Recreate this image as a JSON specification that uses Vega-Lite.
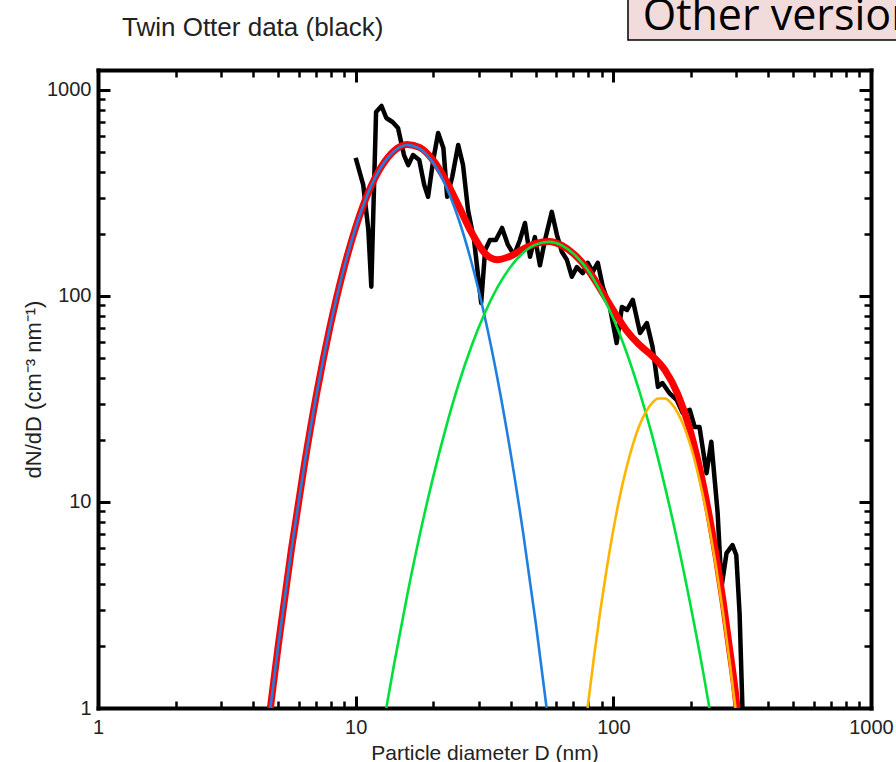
{
  "$schema": "https://vega.github.io/schema/vega-lite/v6.json",
  "autosize": {"type": "none"},
  "padding": {"left": 98, "top": 70, "right": 25, "bottom": 54},
  "width": 773,
  "height": 638,
  "background": "white",
  "config": {"view": {"stroke": null}},
  "datasets": {
    "black": [
      {"D": 10.0, "N": 468}, {"D": 10.7, "N": 346}, {"D": 11.2, "N": 209}, {"D": 11.5, "N": 111},
      {"D": 12.0, "N": 782}, {"D": 12.6, "N": 836}, {"D": 13.15, "N": 731}, {"D": 13.9, "N": 699},
      {"D": 14.6, "N": 654}, {"D": 15.4, "N": 483}, {"D": 16.0, "N": 432}, {"D": 16.7, "N": 483},
      {"D": 17.65, "N": 457}, {"D": 18.45, "N": 346}, {"D": 19.1, "N": 303}, {"D": 20.0, "N": 457},
      {"D": 20.9, "N": 618}, {"D": 21.9, "N": 523}, {"D": 22.65, "N": 303}, {"D": 23.7, "N": 378},
      {"D": 25.0, "N": 541}, {"D": 26.1, "N": 432}, {"D": 27.3, "N": 261}, {"D": 28.8, "N": 187},
      {"D": 30.7, "N": 92.5}, {"D": 31.8, "N": 167}, {"D": 33.2, "N": 187}, {"D": 35.0, "N": 187},
      {"D": 37.0, "N": 214}, {"D": 39.0, "N": 177}, {"D": 41.2, "N": 158}, {"D": 43.4, "N": 187},
      {"D": 45.4, "N": 226}, {"D": 47.5, "N": 155}, {"D": 49.6, "N": 193}, {"D": 51.9, "N": 141},
      {"D": 54.3, "N": 187}, {"D": 57.7, "N": 256}, {"D": 60.4, "N": 198}, {"D": 63.1, "N": 164},
      {"D": 66.0, "N": 150}, {"D": 69.0, "N": 124}, {"D": 72.2, "N": 138}, {"D": 76.1, "N": 129},
      {"D": 79.6, "N": 145}, {"D": 83.2, "N": 131}, {"D": 87.0, "N": 145}, {"D": 91.0, "N": 111},
      {"D": 96.9, "N": 88.5}, {"D": 103, "N": 59.1}, {"D": 108, "N": 88.5}, {"D": 113, "N": 85.5},
      {"D": 119, "N": 95.7}, {"D": 127, "N": 66.1}, {"D": 135, "N": 73.9}, {"D": 142, "N": 56.5},
      {"D": 149, "N": 36.2}, {"D": 155, "N": 37.8}, {"D": 165, "N": 33.8}, {"D": 176, "N": 31.3},
      {"D": 186, "N": 27.0}, {"D": 198, "N": 28.0}, {"D": 207, "N": 23.1}, {"D": 216, "N": 23.1},
      {"D": 230, "N": 13.8}, {"D": 240, "N": 19.6}, {"D": 254, "N": 8.84}, {"D": 263, "N": 3.87},
      {"D": 275, "N": 5.65}, {"D": 290, "N": 6.18}, {"D": 300, "N": 5.53}, {"D": 309, "N": 2.89},
      {"D": 317, "N": 1.0}
    ],
    "red": [
      {"D": 4.667, "N": 1}, {"D": 5.012, "N": 2.03}, {"D": 5.623, "N": 5.81}, {"D": 6.31, "N": 14.9},
      {"D": 7.079, "N": 34.3}, {"D": 7.943, "N": 70.5}, {"D": 8.913, "N": 130}, {"D": 10, "N": 215},
      {"D": 11.22, "N": 320}, {"D": 12.59, "N": 425}, {"D": 14.13, "N": 508}, {"D": 15.85, "N": 544},
      {"D": 17.78, "N": 525}, {"D": 19.95, "N": 457}, {"D": 22.39, "N": 364}, {"D": 25.12, "N": 273},
      {"D": 28.18, "N": 203}, {"D": 31.62, "N": 162}, {"D": 35.48, "N": 150}, {"D": 39.81, "N": 156},
      {"D": 44.67, "N": 169}, {"D": 50.12, "N": 180}, {"D": 56.23, "N": 184}, {"D": 63.1, "N": 176},
      {"D": 70.79, "N": 158.5}, {"D": 79.43, "N": 135}, {"D": 89.13, "N": 108}, {"D": 100, "N": 85.1},
      {"D": 112.2, "N": 68.3}, {"D": 125.9, "N": 58.1}, {"D": 141.3, "N": 51.3}, {"D": 158.5, "N": 43.7},
      {"D": 177.8, "N": 33.4}, {"D": 199.5, "N": 21.8}, {"D": 223.9, "N": 11.9}, {"D": 237.1, "N": 8.19},
      {"D": 251.2, "N": 5.37}, {"D": 266.1, "N": 3.35}, {"D": 281.8, "N": 1.99}, {"D": 298.5, "N": 1.15},
      {"D": 302, "N": 1}
    ],
    "blue": [
      {"D": 4.667, "N": 1}, {"D": 5.012, "N": 2.03}, {"D": 5.623, "N": 5.81}, {"D": 6.31, "N": 14.9},
      {"D": 7.079, "N": 34.3}, {"D": 7.943, "N": 70.5}, {"D": 8.913, "N": 130}, {"D": 10, "N": 215},
      {"D": 11.22, "N": 320}, {"D": 12.59, "N": 425}, {"D": 14.13, "N": 506}, {"D": 15.85, "N": 541},
      {"D": 17.78, "N": 518}, {"D": 19.95, "N": 444}, {"D": 22.39, "N": 341}, {"D": 25.12, "N": 235},
      {"D": 28.18, "N": 145}, {"D": 31.62, "N": 80.4}, {"D": 35.48, "N": 39.9}, {"D": 39.81, "N": 17.7},
      {"D": 44.67, "N": 7.08}, {"D": 50.12, "N": 2.53}, {"D": 55.08, "N": 1}
    ],
    "green": [
      {"D": 13.15, "N": 1}, {"D": 14.13, "N": 1.66}, {"D": 15.85, "N": 3.53}, {"D": 17.78, "N": 7.03},
      {"D": 19.95, "N": 13.1}, {"D": 22.39, "N": 22.9}, {"D": 25.12, "N": 37.5}, {"D": 28.18, "N": 57.3},
      {"D": 31.62, "N": 82.0}, {"D": 35.48, "N": 110}, {"D": 39.81, "N": 138}, {"D": 44.67, "N": 162},
      {"D": 50.12, "N": 178}, {"D": 56.23, "N": 183}, {"D": 63.1, "N": 176}, {"D": 70.79, "N": 158.5},
      {"D": 79.43, "N": 134}, {"D": 89.13, "N": 105}, {"D": 100, "N": 77.8}, {"D": 112.2, "N": 53.8},
      {"D": 125.9, "N": 34.8}, {"D": 141.3, "N": 21.1}, {"D": 158.5, "N": 11.9}, {"D": 177.8, "N": 6.33},
      {"D": 199.5, "N": 3.14}, {"D": 223.9, "N": 1.46}, {"D": 236, "N": 1}
    ],
    "orange": [
      {"D": 79.43, "N": 1}, {"D": 84.14, "N": 1.77}, {"D": 89.13, "N": 3.0}, {"D": 94.41, "N": 4.81},
      {"D": 100, "N": 7.33}, {"D": 105.9, "N": 10.6}, {"D": 112.2, "N": 14.5}, {"D": 118.9, "N": 18.9},
      {"D": 125.9, "N": 23.3}, {"D": 133.4, "N": 27.2}, {"D": 141.3, "N": 30.2}, {"D": 149.6, "N": 31.8},
      {"D": 158.5, "N": 31.8}, {"D": 167.9, "N": 30.1}, {"D": 177.8, "N": 27.1}, {"D": 188.4, "N": 23.1},
      {"D": 199.5, "N": 18.7}, {"D": 211.3, "N": 14.3}, {"D": 223.9, "N": 10.4}, {"D": 237.1, "N": 7.22},
      {"D": 251.2, "N": 4.73}, {"D": 266.1, "N": 2.94}, {"D": 281.8, "N": 1.73}, {"D": 297.8, "N": 1}
    ]
  },
  "resolve": {"axis": {"x": "independent", "y": "independent"}},
  "layer": [
    {
      "data": {"name": "black"},
      "mark": {"type": "line", "color": "black", "strokeWidth": 4.5, "strokeJoin": "round", "clip": true},
      "encoding": {
        "x": {"field": "D", "type": "quantitative", "scale": {"type": "log", "domain": [1, 1000], "nice": false},
          "axis": {"orient": "bottom", "title": "Particle diameter D (nm)", "grid": false,
            "values": [1,2,3,4,5,6,7,8,9,10,20,30,40,50,60,70,80,90,100,200,300,400,500,600,700,800,900,1000],
            "labelExpr": "indexof([1,10,100,1000], datum.value) >= 0 ? format(datum.value, 'd') : ''",
            "tickSize": {"condition": {"test": "indexof([1,10,100,1000], datum.value) >= 0", "value": -12}, "value": -7},
            "tickWidth": {"condition": {"test": "indexof([1,10,100,1000], datum.value) >= 0", "value": 3}, "value": 2.5},
            "tickColor": "black", "domainColor": "black", "domainWidth": 4, "domainCap": "square",
            "labelPadding": 21, "labelFlush": false, "labelOverlap": false, "labelBound": false,
            "labelFont": "Liberation Sans", "labelFontSize": 20, "labelColor": "#222222",
            "titleFont": "Liberation Sans", "titleFontSize": 21, "titleFontWeight": "normal", "titleColor": "#222222", "titlePadding": 0}},
        "y": {"field": "N", "type": "quantitative", "scale": {"type": "log", "domain": [1, 1250], "nice": false},
          "axis": {"orient": "left", "title": "dN/dD (cm⁻³ nm⁻¹)", "grid": false,
            "values": [1,2,3,4,5,6,7,8,9,10,20,30,40,50,60,70,80,90,100,200,300,400,500,600,700,800,900,1000],
            "labelExpr": "indexof([1,10,100,1000], datum.value) >= 0 ? format(datum.value, 'd') : ''",
            "tickSize": {"condition": {"test": "indexof([1,10,100,1000], datum.value) >= 0", "value": -12}, "value": -7},
            "tickWidth": {"condition": {"test": "indexof([1,10,100,1000], datum.value) >= 0", "value": 3}, "value": 2.5},
            "tickColor": "black", "domainColor": "black", "domainWidth": 4, "domainCap": "square",
            "labelPadding": 19, "labelOverlap": false, "labelBound": false,
            "labelFont": "Liberation Sans", "labelFontSize": 20, "labelColor": "#222222",
            "titleFont": "Liberation Sans", "titleFontSize": 22, "titleFontWeight": "normal", "titleColor": "#222222", "titlePadding": 1}}
      }
    },
    {
      "data": {"name": "red"},
      "mark": {"type": "line", "color": "#ff0000", "strokeWidth": 7, "interpolate": "monotone", "clip": true},
      "encoding": {
        "x": {"field": "D", "type": "quantitative", "scale": {"type": "log", "domain": [1, 1000], "nice": false},
          "axis": {"orient": "top", "title": null, "labels": false, "grid": false,
            "values": [1,2,3,4,5,6,7,8,9,10,20,30,40,50,60,70,80,90,100,200,300,400,500,600,700,800,900,1000],
            "tickSize": {"condition": {"test": "indexof([1,10,100,1000], datum.value) >= 0", "value": -12}, "value": -7},
            "tickWidth": {"condition": {"test": "indexof([1,10,100,1000], datum.value) >= 0", "value": 3}, "value": 2.5},
            "tickColor": "black", "domainColor": "black", "domainWidth": 4, "domainCap": "square"}},
        "y": {"field": "N", "type": "quantitative", "scale": {"type": "log", "domain": [1, 1250], "nice": false},
          "axis": {"orient": "right", "title": null, "labels": false, "grid": false,
            "values": [1,2,3,4,5,6,7,8,9,10,20,30,40,50,60,70,80,90,100,200,300,400,500,600,700,800,900,1000],
            "tickSize": {"condition": {"test": "indexof([1,10,100,1000], datum.value) >= 0", "value": -12}, "value": -7},
            "tickWidth": {"condition": {"test": "indexof([1,10,100,1000], datum.value) >= 0", "value": 3}, "value": 2.5},
            "tickColor": "black", "domainColor": "black", "domainWidth": 4, "domainCap": "square"}}
      }
    },
    {
      "data": {"name": "blue"},
      "mark": {"type": "line", "color": "#1f7fe0", "strokeWidth": 2.6, "interpolate": "monotone", "clip": true},
      "encoding": {
        "x": {"field": "D", "type": "quantitative", "scale": {"type": "log", "domain": [1, 1000], "nice": false}, "axis": null},
        "y": {"field": "N", "type": "quantitative", "scale": {"type": "log", "domain": [1, 1250], "nice": false}, "axis": null}
      }
    },
    {
      "data": {"name": "green"},
      "mark": {"type": "line", "color": "#00e03c", "strokeWidth": 2.6, "interpolate": "monotone", "clip": true},
      "encoding": {
        "x": {"field": "D", "type": "quantitative", "scale": {"type": "log", "domain": [1, 1000], "nice": false}, "axis": null},
        "y": {"field": "N", "type": "quantitative", "scale": {"type": "log", "domain": [1, 1250], "nice": false}, "axis": null}
      }
    },
    {
      "data": {"name": "orange"},
      "mark": {"type": "line", "color": "#ffb400", "strokeWidth": 2.6, "interpolate": "monotone", "clip": true},
      "encoding": {
        "x": {"field": "D", "type": "quantitative", "scale": {"type": "log", "domain": [1, 1000], "nice": false}, "axis": null},
        "y": {"field": "N", "type": "quantitative", "scale": {"type": "log", "domain": [1, 1250], "nice": false}, "axis": null}
      }
    },
    {
      "data": {"values": [{}]},
      "mark": {"type": "text", "text": "Twin Otter data (black)", "align": "left", "baseline": "alphabetic", "font": "Liberation Sans", "fontSize": 26, "color": "#222222", "clip": false},
      "encoding": {
        "x": {"datum": 1.239, "type": "quantitative", "scale": {"type": "log", "domain": [1, 1000], "nice": false}, "axis": null},
        "y": {"datum": 1820, "type": "quantitative", "scale": {"type": "log", "domain": [1, 1250], "nice": false}, "axis": null}
      }
    },
    {
      "data": {"values": [{}]},
      "mark": {"type": "rect", "fill": "#f2dcdb", "stroke": "black", "strokeWidth": 1.5, "clip": false},
      "encoding": {
        "x": {"datum": 114, "type": "quantitative", "scale": {"type": "log", "domain": [1, 1000], "nice": false}, "axis": null},
        "x2": {"datum": 1540},
        "y": {"datum": 1750, "type": "quantitative", "scale": {"type": "log", "domain": [1, 1250], "nice": false}, "axis": null},
        "y2": {"datum": 3100}
      }
    },
    {
      "data": {"values": [{}]},
      "mark": {"type": "text", "text": "Other version", "align": "left", "baseline": "alphabetic", "font": "Open Sans", "fontSize": 43, "color": "black", "clip": false},
      "encoding": {
        "x": {"datum": 130, "type": "quantitative", "scale": {"type": "log", "domain": [1, 1000], "nice": false}, "axis": null},
        "y": {"datum": 1955, "type": "quantitative", "scale": {"type": "log", "domain": [1, 1250], "nice": false}, "axis": null}
      }
    }
  ]
}
